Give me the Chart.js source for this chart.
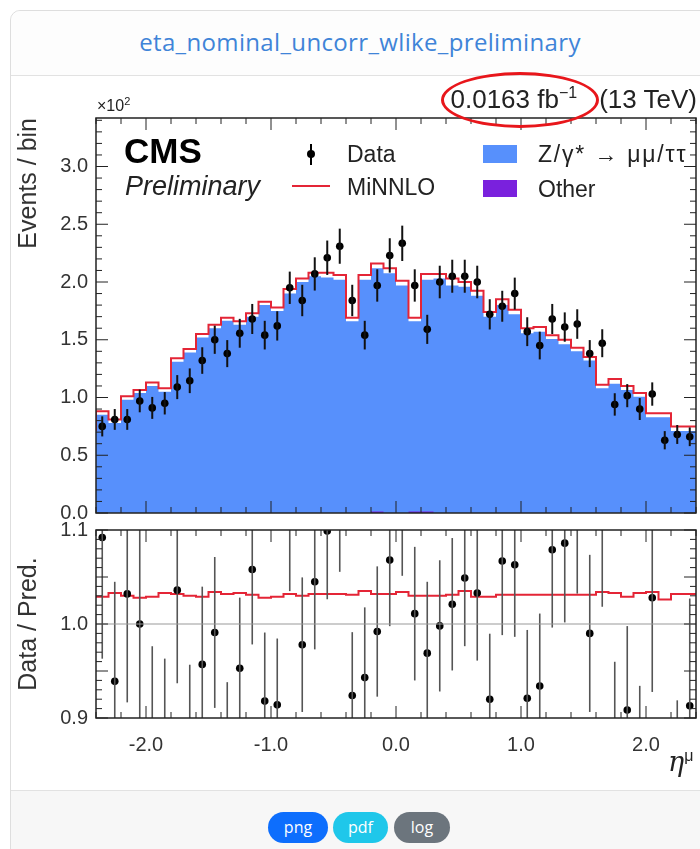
<!DOCTYPE html>
<html>
<head>
<meta charset="utf-8">
<script src="https://cdn.jsdelivr.net/npm/chart.js@4.4.1/dist/chart.umd.min.js"></script>
<style>
  html, body { margin: 0; padding: 0; background: #fff; width: 700px; height: 849px; overflow: hidden; }
  body { position: relative; font-family: "Liberation Sans", Arial, sans-serif; color: #222; }
  .abs { position: absolute; white-space: nowrap; }
  .card { left: 10px; top: 10px; width: 720px; height: 900px; border: 1px solid #dedede; border-radius: 10px; }
  .head { left: 11px; top: 11px; width: 720px; height: 64px; border-bottom: 1px solid #e2e2e2; border-top-left-radius: 10px; background: #fdfdfd; }
  .title { left: 10px; width: 700px; top: 25px; text-align: center; font-family: "Open Sans", sans-serif; font-size: 24px; letter-spacing: 0.35px; color: #3f84d8; }
  .foot { left: 11px; top: 790px; width: 720px; height: 60px; border-top: 1px solid #e2e2e2; background: #f7f7f7; }
  .pill { top: 812px; height: 31px; line-height: 30px; border-radius: 16px; color: #fff; font-family: "Open Sans", sans-serif; font-size: 16px; text-align: center; }
  .leg { font-size: 23px; line-height: 26px; }
  canvas { position: absolute; left: 0; }
</style>
</head>
<body>
<div class="abs card"></div>
<div class="abs head"></div>
<div class="abs title">eta_nominal_uncorr_wlike_preliminary</div>

<canvas id="mainChart" width="700" height="420" style="top:110px"></canvas>
<canvas id="ratioChart" width="700" height="260" style="top:520px"></canvas>

<!-- annotations -->
<div class="abs" style="left:97px;top:95px;font-size:16px;">&times;10<sup style="font-size:11px">2</sup></div>
<div class="abs" style="right:3px;top:84px;font-size:26px;">0.0163 fb<sup style="font-size:16px;margin-right:22px;">&minus;1</sup>(13 TeV)</div>
<div class="abs" style="left:441px;top:72px;width:152px;height:50px;border:3px solid #e8161b;border-radius:50%;"></div>

<div class="abs" style="left:124px;top:131px;font-size:35px;font-weight:bold;color:#000;">CMS</div>
<div class="abs" style="left:125px;top:171px;font-size:27px;font-style:italic;">Preliminary</div>

<div class="abs" style="left:307px;top:150px;width:8px;height:8px;border-radius:50%;background:#000;"></div>
<div class="abs" style="left:310px;top:144px;width:2px;height:21px;background:#000;"></div>
<div class="abs leg" style="left:347px;top:141px;">Data</div>
<div class="abs" style="left:292px;top:185px;width:38px;height:2px;background:#e42536;"></div>
<div class="abs leg" style="left:347px;top:174px;">MiNNLO</div>
<div class="abs" style="left:483px;top:145px;width:34px;height:18px;background:#5790fc;"></div>
<div class="abs leg" style="left:538px;top:141px;letter-spacing:1.8px;">Z/&gamma;* &rarr; &mu;&mu;/&tau;&tau;</div>
<div class="abs" style="left:483px;top:180px;width:34px;height:17px;background:#7a21dd;"></div>
<div class="abs leg" style="left:538px;top:176px;">Other</div>

<div class="abs" style="left:668px;top:746px;font-size:27px;font-style:italic;font-family:'DejaVu Serif',serif;">&eta;<sup style="font-size:16px;font-style:normal;font-family:'Liberation Sans',sans-serif;">&mu;</sup></div>

<div class="abs foot"></div>
<div class="abs pill" style="left:268px;width:60px;background:#0d6efd;">png</div>
<div class="abs pill" style="left:333px;width:55px;background:#1fc7ea;">pdf</div>
<div class="abs pill" style="left:394px;width:56px;background:#6c757d;">log</div>

<script>
// muon eta bins, -2.4 .. 2.4
var binEdges = [-2.4, -2.3, -2.2, -2.1, -2.0, -1.9, -1.8, -1.7, -1.6, -1.5, -1.4, -1.3, -1.2, -1.1, -1.0, -0.9, -0.8, -0.7, -0.6, -0.5, -0.4, -0.3, -0.2, -0.1, 0.0,
                0.1, 0.2, 0.3, 0.4, 0.5, 0.6, 0.7, 0.8, 0.9, 1.0, 1.1, 1.2, 1.3, 1.4, 1.5, 1.6, 1.7, 1.8, 1.9, 2.0, 2.1, 2.2, 2.3, 2.4];

// stacked prediction (x10^2 events / bin)
var zPred = [0.675, 0.85, 0.78, 0.98, 1.04, 1.10, 1.05, 1.31, 1.39, 1.52, 1.60, 1.665, 1.63, 1.70, 1.80, 1.75,
             1.90, 2.00, 2.05, 2.04, 2.02, 1.66, 2.02, 2.12, 2.075, 1.97, 1.66, 2.02, 2.03, 1.97, 1.96, 1.88,
             1.70, 1.80, 1.72, 1.556, 1.57, 1.506, 1.46, 1.40, 1.32, 1.08, 1.12, 1.065, 1.007, 0.83, 0.83, 0.71];
var otherPred = [0, 0, 0, 0, 0, 0, 0, 0, 0, 0, 0, 0, 0, 0, 0, 0,
                 0, 0, 0, 0, 0, 0, 0, 0.012, 0, 0, 0.012, 0.012, 0, 0, 0, 0,
                 0, 0, 0, 0, 0, 0, 0, 0, 0, 0, 0, 0, 0, 0, 0, 0];
// MiNNLO total
var mnloPred = [0.71, 0.88, 0.81, 1.01, 1.065, 1.13, 1.08, 1.34, 1.42, 1.55, 1.63, 1.69, 1.66, 1.73, 1.83, 1.78,
                1.94, 2.03, 2.08, 2.08, 2.06, 1.69, 2.06, 2.16, 2.12, 2.01, 1.69, 2.07, 2.07, 2.03, 2.00, 1.925,
                1.74, 1.85, 1.76, 1.60, 1.61, 1.54, 1.50, 1.43, 1.35, 1.11, 1.16, 1.10, 1.04, 0.863, 0.863, 0.75];
// data
var dataVals = [0.75, 0.81, 0.81, 0.97, 0.91, 0.95, 1.09, 1.145, 1.32, 1.50, 1.38, 1.556, 1.68, 1.54, 1.62, 1.95,
                1.84, 2.07, 2.21, 2.31, 1.84, 1.54, 1.97, 2.23, 2.335, 1.97, 1.59, 2.00, 2.05, 2.05, 2.00, 1.72,
                1.79, 1.90, 1.57, 1.45, 1.68, 1.61, 1.636, 1.38, 1.47, 0.94, 1.016, 0.90, 1.03, 0.63, 0.68, 0.66];
var dataErr = [0.087, 0.09, 0.09, 0.098, 0.095, 0.097, 0.104, 0.107, 0.115, 0.122, 0.117, 0.125, 0.13, 0.124, 0.127, 0.14,
               0.136, 0.144, 0.149, 0.152, 0.136, 0.124, 0.14, 0.149, 0.153, 0.14, 0.126, 0.141, 0.143, 0.143, 0.141, 0.131,
               0.134, 0.138, 0.125, 0.12, 0.13, 0.127, 0.128, 0.117, 0.121, 0.097, 0.1, 0.095, 0.101, 0.079, 0.082, 0.081];
// ratio panel
var ratioVals = [1.092, 0.939, 1.032, 1.000, 0.885, 0.875, 1.036, 0.875, 0.957, 0.991, 0.865, 0.953, 1.058, 0.918, 0.914, 1.115,
                 0.978, 1.045, 1.099, 1.13, 0.924, 0.943, 0.992, 1.068, 1.125, 1.011, 0.969, 0.998, 1.021, 1.049, 1.033, 0.920,
                 1.067, 1.063, 0.921, 0.934, 1.079, 1.086, 1.12, 0.990, 1.11, 0.87, 0.9085, 0.845, 1.028, 0.76, 0.82, 0.913];
var mnloRatio = [1.029, 1.029, 1.033, 1.030, 1.028, 1.029, 1.033, 1.032, 1.030, 1.029, 1.034, 1.032, 1.033, 1.031, 1.028, 1.029,
                 1.032, 1.030, 1.032, 1.032, 1.032, 1.031, 1.035, 1.032, 1.032, 1.034, 1.030, 1.030, 1.030, 1.031, 1.035, 1.029,
                 1.029, 1.031, 1.031, 1.031, 1.031, 1.031, 1.031, 1.031, 1.031, 1.034, 1.033, 1.029, 1.033, 1.034, 1.026, 1.032];

var yTicksMain = [0.0, 0.5, 1.0, 1.5, 2.0, 2.5, 3.0];
var yTicksRatio = [0.9, 1.0, 1.1];
var xTicks = [-2.0, -1.0, 0.0, 1.0, 2.0];

var COLOR_Z = '#5790fc';
var COLOR_OTHER = '#7a21dd';
var COLOR_MNLO = '#e42536';
var FONT = 'Liberation Sans';

var binCenters = binEdges.slice(0, -1).map(function (e, i) { return (e + binEdges[i + 1]) / 2; });

// histogram as stepped line: one point per left edge + closing edge
function stepPoints(vals) {
  return binEdges.map(function (x, i) { return { x: x, y: vals[Math.min(i, vals.length - 1)] }; });
}
function centerPoints(vals) {
  return binCenters.map(function (x, i) { return { x: x, y: vals[i] }; });
}
function steps(from, to, step) {
  var out = [];
  for (var v = from; v <= to + 1e-9; v += step) out.push(Math.round(v * 1000) / 1000);
  return out;
}

// vertical error bars on the data points
function makeErrorBars(vals, errs, color, width) {
  return {
    id: 'errorBars',
    afterDatasetsDraw: function (chart) {
      var ctx = chart.ctx, a = chart.chartArea;
      var xs = chart.scales.x, ys = chart.scales.y;
      ctx.save();
      ctx.beginPath();
      ctx.rect(a.left, a.top, a.right - a.left, a.bottom - a.top);
      ctx.clip();
      ctx.strokeStyle = color;
      ctx.lineWidth = width;
      binCenters.forEach(function (c, i) {
        var px = xs.getPixelForValue(c);
        ctx.beginPath();
        ctx.moveTo(px, ys.getPixelForValue(vals[i] - errs[i]));
        ctx.lineTo(px, ys.getPixelForValue(vals[i] + errs[i]));
        ctx.stroke();
      });
      ctx.restore();
    }
  };
}

// ROOT-like frame with inward ticks on all sides
function makeFrame(xMinor, xMajor, yMinor, yMajor, extra) {
  return {
    id: 'frame',
    afterDraw: function (chart) {
      var ctx = chart.ctx, a = chart.chartArea;
      var xs = chart.scales.x, ys = chart.scales.y;
      ctx.save();
      ctx.strokeStyle = '#222';
      ctx.lineWidth = 1;
      function seg(x1, y1, x2, y2) { ctx.beginPath(); ctx.moveTo(x1, y1); ctx.lineTo(x2, y2); ctx.stroke(); }
      if (extra) extra(chart, seg);
      xMinor.forEach(function (v) {
        var p = xs.getPixelForValue(v);
        var len = xMajor.indexOf(v) >= 0 ? 12 : 6;
        seg(p, a.bottom, p, a.bottom - len);
        seg(p, a.top, p, a.top + len);
      });
      yMinor.forEach(function (v) {
        var p = ys.getPixelForValue(v);
        var len = yMajor.indexOf(v) >= 0 ? 12 : 6;
        seg(a.left, p, a.left + len, p);
        seg(a.right, p, a.right - len, p);
      });
      ctx.lineWidth = 1.5;
      ctx.strokeRect(a.left, a.top, a.right - a.left, a.bottom - a.top);
      ctx.restore();
    }
  };
}

// fixed plot-area geometry: no label overhang padding
function fixY(s) { s.width = 96; s.paddingTop = 0; s.paddingBottom = 0; }
function fixX(s) { s.height = 60; s.paddingLeft = 0; s.paddingRight = 0; }

var xMinorTicks = steps(-2.4, 2.4, 0.2);

var mainChart = new Chart(document.getElementById('mainChart').getContext('2d'), {
  type: 'line',
  data: {
    datasets: [
      { label: 'Data', data: centerPoints(dataVals), showLine: false, pointRadius: 3.8, pointBackgroundColor: '#000', pointBorderWidth: 0, order: 0 },
      { label: 'MiNNLO', data: stepPoints(mnloPred), stepped: 'after', borderColor: COLOR_MNLO, borderWidth: 2, pointRadius: 0, fill: false, order: 1 },
      { label: 'Other', data: stepPoints(otherPred), stepped: 'after', borderWidth: 0, pointRadius: 0, fill: 'origin', backgroundColor: COLOR_OTHER, order: 2 },
      { label: 'Z/γ* → μμ/ττ', data: stepPoints(zPred), stepped: 'after', borderWidth: 0, pointRadius: 0, fill: 'origin', backgroundColor: COLOR_Z, order: 3 }
    ]
  },
  options: {
    responsive: false,
    animation: false,
    devicePixelRatio: 1,
    layout: { padding: { top: 8, right: 2, bottom: 17, left: 0 } },
    plugins: { legend: { display: false }, tooltip: { enabled: false } },
    scales: {
      x: { type: 'linear', min: -2.4, max: 2.4, display: false },
      y: {
        type: 'linear', min: 0, max: 3.42,
        grid: { display: false, drawTicks: false },
        border: { display: false },
        afterFit: fixY,
        afterBuildTicks: function (s) { s.ticks = yTicksMain.map(function (v) { return { value: v }; }); },
        ticks: { padding: 8, color: '#333', font: { family: FONT, size: 20 }, callback: function (v) { return v.toFixed(1); } },
        title: { display: true, text: 'Events / bin', align: 'end', color: '#333', font: { family: FONT, size: 25 }, padding: { top: 14, bottom: 0 } }
      }
    }
  },
  plugins: [makeErrorBars(dataVals, dataErr, '#111', 2), makeFrame(xMinorTicks, xTicks, steps(0, 3.4, 0.1), yTicksMain)]
});

var ratioErr = dataErr.map(function (e, i) { return e / zPred[i]; });

var ratioChart = new Chart(document.getElementById('ratioChart').getContext('2d'), {
  type: 'line',
  data: {
    datasets: [
      { label: 'Data', data: centerPoints(ratioVals), showLine: false, pointRadius: 3.8, pointBackgroundColor: '#000', pointBorderWidth: 0, order: 0 },
      { label: 'MiNNLO', data: stepPoints(mnloRatio), stepped: 'after', borderColor: COLOR_MNLO, borderWidth: 2, pointRadius: 0, fill: false, order: 1 }
    ]
  },
  options: {
    responsive: false,
    animation: false,
    devicePixelRatio: 1,
    layout: { padding: { top: 10, right: 2, bottom: 2, left: 0 } },
    plugins: { legend: { display: false }, tooltip: { enabled: false } },
    scales: {
      x: {
        type: 'linear', min: -2.4, max: 2.4,
        grid: { display: false, drawTicks: false },
        border: { display: false },
        afterFit: fixX,
        afterBuildTicks: function (s) { s.ticks = xTicks.map(function (v) { return { value: v }; }); },
        ticks: { padding: 15, color: '#333', maxRotation: 0, font: { family: FONT, size: 20 }, callback: function (v) { return v.toFixed(1); } }
      },
      y: {
        type: 'linear', min: 0.9, max: 1.1,
        grid: { display: false, drawTicks: false },
        border: { display: false },
        afterFit: fixY,
        afterBuildTicks: function (s) { s.ticks = yTicksRatio.map(function (v) { return { value: v }; }); },
        ticks: { padding: 8, color: '#333', font: { family: FONT, size: 20 }, callback: function (v) { return v.toFixed(1); } },
        title: { display: true, text: 'Data / Pred.', color: '#333', font: { family: FONT, size: 25 }, padding: { top: 14, bottom: 0 } }
      }
    }
  },
  plugins: [
    makeErrorBars(ratioVals, ratioErr, '#555', 1.6),
    makeFrame(xMinorTicks, xTicks, steps(0.9, 1.1, 0.01), [0.9, 0.95, 1.0, 1.05, 1.1], function (chart, seg) {
      // unity reference line
      var a = chart.chartArea, p = chart.scales.y.getPixelForValue(1.0);
      chart.ctx.strokeStyle = '#999';
      seg(a.left, p, a.right, p);
      chart.ctx.strokeStyle = '#222';
    })
  ]
});
</script>
</body>
</html>
